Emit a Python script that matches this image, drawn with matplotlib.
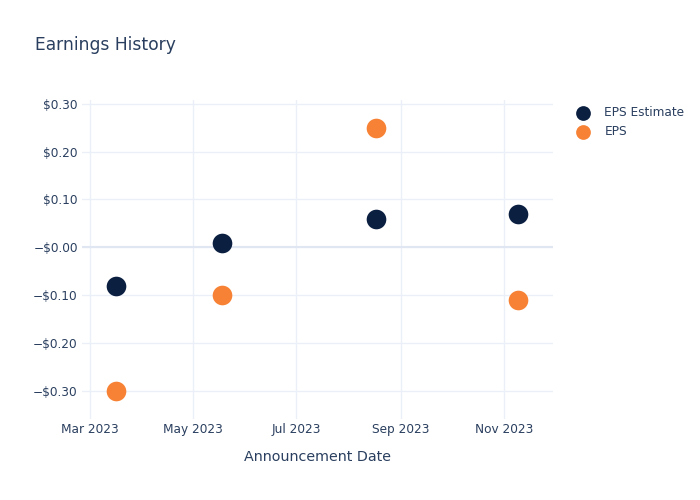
import matplotlib.pyplot as plt
import matplotlib.dates as mdates
import numpy as np
import datetime as dt

# data
dates = [dt.date(2023, 3, 16), dt.date(2023, 5, 18), dt.date(2023, 8, 17), dt.date(2023, 11, 9)]
eps_estimate = [-0.08, 0.01, 0.06, 0.07]
eps_actual = [-0.30, -0.10, 0.25, -0.11]
y_ticks = [0.30, 0.20, 0.10, 0.0, -0.10, -0.20, -0.30]
y_labels = ['$0.30', '$0.20', '$0.10', '\u2212$0.00', '\u2212$0.10', '\u2212$0.20', '\u2212$0.30']
x_ticks = [dt.date(2023, 3, 1), dt.date(2023, 5, 1), dt.date(2023, 7, 1), dt.date(2023, 9, 1), dt.date(2023, 11, 1)]

plt.rcParams['font.family'] = ['DejaVu Sans']
text_col = '#2a3f5f'
grid_col = '#ebf0f8'

fig = plt.figure(figsize=(7, 5), dpi=100)
ax = fig.add_axes([0.117, 0.162, 0.673, 0.638])

ax.scatter(dates, eps_estimate, s=200, color='#0b1f41', label='EPS Estimate', zorder=3, linewidths=0)
ax.scatter(dates, eps_actual, s=200, color='#f78235', label='EPS', zorder=3, linewidths=0)

ax.set_xlim(dt.date(2023, 2, 24), dt.date(2023, 11, 30))
ax.set_ylim(-0.359, 0.308)
ax.set_xticks(x_ticks)
ax.xaxis.set_major_formatter(mdates.DateFormatter('%b %Y'))
ax.set_yticks(y_ticks)
ax.set_yticklabels(y_labels)

ax.grid(True, color=grid_col, linewidth=1)
ax.axhline(0, color='#e1e7f2', linewidth=1.5, zorder=1)
for s in ax.spines.values():
    s.set_visible(False)
ax.tick_params(length=0, labelsize=8.7, colors=text_col, pad=3)
ax.set_axisbelow(True)

ax.set_xlabel('Announcement Date', fontsize=10.3, color=text_col, labelpad=10)
fig.text(0.05, 0.91, 'Earnings History', fontsize=12.3, color=text_col, va='center')

leg = ax.legend(loc='upper left', bbox_to_anchor=(1.028, 0.995), frameon=False,
                fontsize=8.7, labelcolor=text_col, handletextpad=0.75,
                borderaxespad=0, labelspacing=0.45, markerscale=0.75)

fig.savefig('out.png', dpi=100)
